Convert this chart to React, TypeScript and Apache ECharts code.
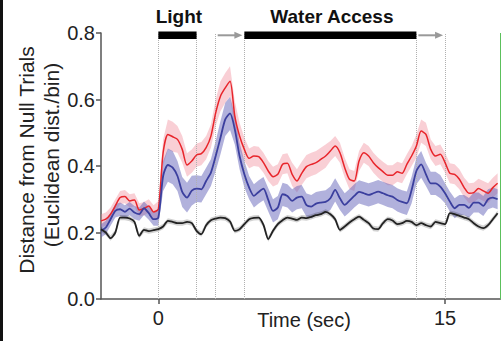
import React, { useEffect, useRef } from 'react';
import * as echarts from 'echarts';

// time (sec) of each bin
const times = [
  -3, -2.75, -2.5, -2.25, -2, -1.75, -1.5, -1.25, -1, -0.75, -0.5, -0.25,
  0, 0.25, 0.5, 0.75, 1, 1.25, 1.5, 1.75, 2, 2.25, 2.5, 2.75,
  3, 3.25, 3.5, 3.75, 4, 4.25, 4.5, 4.75, 5, 5.25, 5.5, 5.75,
  6, 6.25, 6.5, 6.75, 7, 7.25, 7.5, 7.75, 8, 8.25, 8.5, 8.75,
  9, 9.25, 9.5, 9.75, 10, 10.25, 10.5, 10.75, 11, 11.25, 11.5, 11.75,
  12, 12.25, 12.5, 12.75, 13, 13.25, 13.5, 13.75, 14, 14.25, 14.5, 14.75,
  15, 15.25, 15.5, 15.75, 16, 16.25, 16.5, 16.75, 17, 17.25, 17.5, 17.75,
];

const redMean = [
  0.235, 0.24, 0.255, 0.28, 0.305, 0.308, 0.295, 0.298, 0.268, 0.272, 0.28, 0.262,
  0.27, 0.44, 0.495, 0.488, 0.48, 0.45, 0.403, 0.415, 0.433, 0.437, 0.455, 0.49,
  0.56, 0.61, 0.635, 0.655, 0.55, 0.49, 0.45, 0.423, 0.43, 0.428, 0.41, 0.385,
  0.368, 0.375, 0.405, 0.408, 0.375, 0.355, 0.378, 0.398, 0.405, 0.41, 0.42, 0.43,
  0.445, 0.46, 0.44, 0.395, 0.36, 0.355, 0.415, 0.44, 0.43, 0.41, 0.395, 0.383,
  0.372, 0.372, 0.383, 0.378, 0.405, 0.43, 0.46, 0.505, 0.495, 0.45, 0.43, 0.435,
  0.41, 0.378, 0.375, 0.36, 0.335, 0.318, 0.32, 0.332, 0.325, 0.318, 0.335, 0.348,
];
const redSem = [
  0.02, 0.02, 0.02, 0.02, 0.02, 0.02, 0.02, 0.02, 0.02, 0.02, 0.02, 0.02,
  0.025, 0.04, 0.045, 0.045, 0.04, 0.04, 0.035, 0.035, 0.035, 0.035, 0.035, 0.035,
  0.04, 0.045, 0.045, 0.045, 0.045, 0.04, 0.035, 0.03, 0.03, 0.03, 0.03, 0.03,
  0.03, 0.03, 0.03, 0.03, 0.035, 0.035, 0.035, 0.035, 0.035, 0.035, 0.035, 0.035,
  0.03, 0.03, 0.03, 0.03, 0.03, 0.03, 0.03, 0.03, 0.03, 0.03, 0.03, 0.03,
  0.03, 0.03, 0.03, 0.03, 0.03, 0.03, 0.035, 0.035, 0.035, 0.03, 0.03, 0.03,
  0.03, 0.03, 0.03, 0.03, 0.03, 0.03, 0.03, 0.03, 0.03, 0.03, 0.03, 0.03,
];

const blueMean = [
  0.205, 0.215, 0.24, 0.265, 0.27, 0.262, 0.272, 0.26, 0.255, 0.273, 0.258, 0.24,
  0.245, 0.37, 0.403, 0.395, 0.37, 0.322, 0.305, 0.326, 0.332, 0.33, 0.355, 0.38,
  0.43, 0.485, 0.54, 0.558, 0.51, 0.43, 0.375, 0.335, 0.31, 0.322, 0.332, 0.298,
  0.265, 0.275, 0.315, 0.31, 0.295, 0.305, 0.308, 0.282, 0.278, 0.287, 0.29, 0.292,
  0.303, 0.328, 0.303, 0.283, 0.296, 0.31, 0.322, 0.318, 0.313, 0.318, 0.323, 0.318,
  0.312, 0.308, 0.298, 0.292, 0.288, 0.328, 0.385, 0.405, 0.375, 0.348, 0.348, 0.338,
  0.318, 0.293, 0.273, 0.283, 0.283, 0.274, 0.29, 0.29, 0.28, 0.3, 0.305, 0.3,
];
const blueSem = [
  0.02, 0.02, 0.02, 0.02, 0.02, 0.02, 0.02, 0.02, 0.02, 0.02, 0.02, 0.02,
  0.025, 0.045, 0.05, 0.05, 0.045, 0.045, 0.045, 0.045, 0.04, 0.04, 0.04, 0.04,
  0.045, 0.05, 0.05, 0.05, 0.045, 0.04, 0.04, 0.035, 0.035, 0.035, 0.035, 0.035,
  0.035, 0.035, 0.035, 0.035, 0.035, 0.035, 0.035, 0.035, 0.035, 0.035, 0.035, 0.035,
  0.035, 0.035, 0.035, 0.035, 0.035, 0.035, 0.035, 0.035, 0.035, 0.035, 0.035, 0.035,
  0.035, 0.035, 0.035, 0.035, 0.035, 0.04, 0.04, 0.04, 0.035, 0.035, 0.035, 0.035,
  0.03, 0.03, 0.03, 0.03, 0.03, 0.03, 0.03, 0.03, 0.03, 0.03, 0.03, 0.03,
];

const nullMean = [
  0.21, 0.2, 0.183, 0.2, 0.245, 0.245, 0.242, 0.232, 0.19, 0.208, 0.204, 0.207,
  0.21, 0.218, 0.235, 0.232, 0.228, 0.228, 0.232, 0.228, 0.205, 0.195, 0.222, 0.237,
  0.242, 0.245, 0.243, 0.233, 0.205, 0.21, 0.225, 0.24, 0.244, 0.245, 0.223, 0.18,
  0.205, 0.225, 0.237, 0.245, 0.242, 0.238, 0.245, 0.243, 0.247, 0.252, 0.255, 0.262,
  0.255, 0.24, 0.208, 0.218, 0.23, 0.24, 0.248, 0.238, 0.228, 0.212, 0.21, 0.228,
  0.24, 0.236, 0.225, 0.228, 0.235, 0.232, 0.222, 0.228, 0.222, 0.218, 0.232, 0.228,
  0.225, 0.258, 0.255, 0.25, 0.245, 0.24, 0.228, 0.218, 0.213, 0.222, 0.24, 0.258,
];
const nullSem = times.map(() => 0.008);

// events on top of plot
const eventStart = [0, 3, 4.5, 13.5];
const eventEnd = [2, 4.5, 13.5, 15];
const eventKind = ['bar', 'arrow', 'bar', 'arrow'];
const eventLabel = ['Light', '', 'Water Access', ''];
const guideTimes = [0, 2, 3, 4.5, 13.5, 15];
const endMarker = 17.9;

const xMin = -3;
const xMax = 17.9;
const xLabelValues = [0, 15];
const xTitle = 'Time (sec)';
const yTitleLines = ['Distance from Null Trials', '(Euclidean dist./bin)'];
const yMin = 0;
const yMax = 0.8;
const yStep = 0.2;

const FONT = 'Liberation Sans, Arial, Helvetica, sans-serif';

function bandSeries(mean: number[], sem: number[], color: string, z: number) {
  return {
    type: 'custom',
    z,
    silent: true,
    data: [[times[0], mean[0]]],
    renderItem: (_params: any, api: any) => {
      const up = times.map((t, i) => api.coord([t, mean[i] + sem[i]]));
      const lo = times.map((t, i) => api.coord([t, mean[i] - sem[i]])).reverse();
      return {
        type: 'polygon',
        shape: { points: up.concat(lo), smooth: 0 },
        style: { fill: color },
      };
    },
  };
}

function lineSeries(name: string, mean: number[], color: string, width: number, z: number, extra: any = {}) {
  return {
    name,
    type: 'line',
    z,
    silent: true,
    symbol: 'none',
    showSymbol: false,
    smooth: 0.25,
    data: times.map((t, i) => [t, mean[i]]),
    lineStyle: { color, width },
    ...extra,
  };
}

export default function App() {
  const ref = useRef<HTMLDivElement>(null);
  useEffect(() => {
    if (!ref.current) return;
    const chart = echarts.init(ref.current, undefined, { renderer: 'svg' });
    const option: any = {
      animation: false,
      backgroundColor: '#ffffff',
      grid: { left: 101, top: 33, width: 399.5, height: 266, containLabel: false, outerBoundsMode: 'none' },
      xAxis: {
        type: 'value',
        min: xMin,
        max: xMax,
        axisLine: { show: true, onZero: false, lineStyle: { color: '#555', width: 1.5 } },
        axisTick: { show: true, length: 5, customValues: xLabelValues, lineStyle: { color: '#555', width: 1.5 } },
        axisLabel: { customValues: xLabelValues, fontSize: 20, color: '#222', fontFamily: FONT, margin: 9 },
        splitLine: { show: false },
      },
      yAxis: {
        type: 'value',
        min: yMin,
        max: yMax,
        interval: yStep,
        axisLine: { show: true, onZero: false, lineStyle: { color: '#555', width: 1.5 } },
        axisTick: { show: true, length: 5, lineStyle: { color: '#555', width: 1.5 } },
        axisLabel: { fontSize: 20, color: '#222', fontFamily: FONT, margin: 6, formatter: (v: number) => v.toFixed(1) },
        splitLine: { show: false },
      },
      graphic: [
        { type: 'rect', shape: { x: 0, y: 0, width: 3, height: 341 }, style: { fill: '#111' } },
        {
          type: 'text', x: 26, y: 160, rotation: Math.PI / 2,
          style: { text: yTitleLines[0], fontSize: 21, fontFamily: FONT, fill: '#222', align: 'center', verticalAlign: 'middle' },
        },
        {
          type: 'text', x: 51, y: 155, rotation: Math.PI / 2,
          style: { text: yTitleLines[1], fontSize: 21, fontFamily: FONT, fill: '#222', align: 'center', verticalAlign: 'middle' },
        },
        {
          type: 'text', x: 304, y: 320,
          style: { text: xTitle, fontSize: 20, fontFamily: FONT, fill: '#222', align: 'center', verticalAlign: 'middle' },
        },
      ],
      series: [
        lineSeries('guides', [], '#aaa', 1, 1, {
          data: [],
          markLine: {
            silent: true,
            symbol: ['none', 'none'],
            label: { show: false },
            lineStyle: { color: '#b0b0b0', type: 'dotted', width: 1 },
            data: [
              ...guideTimes.map((t) => ({ xAxis: t })),
              { xAxis: endMarker, lineStyle: { color: '#5cc05c', type: 'solid', width: 2 } },
            ],
          },
        }),
        bandSeries(redMean, redSem, 'rgba(240,130,145,0.38)', 2),
        bandSeries(blueMean, blueSem, 'rgba(100,100,185,0.5)', 3),
        bandSeries(nullMean, nullSem, 'rgba(0,0,0,0.18)', 4),
        lineSeries('red', redMean, '#e8252b', 1.5, 5),
        lineSeries('blue', blueMean, '#3b3f9e', 1.8, 6),
        lineSeries('null', nullMean, '#222222', 1.8, 7),
        {
          type: 'custom',
          z: 10,
          silent: true,
          clip: false,
          data: eventStart.map((s, i) => [s, eventEnd[i]]),
          renderItem: (params: any, api: any) => {
            const i = params.dataIndex;
            const p0 = api.coord([api.value(0), yMax]);
            const p1 = api.coord([api.value(1), yMax]);
            const yMid = p0[1] + 2.3;
            if (eventKind[i] === 'bar') {
              return {
                type: 'group',
                children: [
                  { type: 'rect', shape: { x: p0[0], y: p0[1] - 1.4, width: p1[0] - p0[0], height: 7.5 }, style: { fill: '#000' } },
                  {
                    type: 'text',
                    style: {
                      text: eventLabel[i], x: (p0[0] + p1[0]) / 2 + 1.5, y: p0[1] - 17,
                      align: 'center', verticalAlign: 'middle',
                      fontSize: 19, fontWeight: 'bold', fontFamily: FONT, fill: '#111',
                    },
                  },
                ],
              };
            }
            const xa = p0[0] + 2;
            const xb = p1[0] - 2;
            return {
              type: 'group',
              children: [
                { type: 'line', shape: { x1: xa, y1: yMid, x2: xb - 6, y2: yMid }, style: { stroke: '#999', lineWidth: 2 } },
                { type: 'polygon', shape: { points: [[xb - 8, yMid - 3.5], [xb, yMid], [xb - 8, yMid + 3.5]] }, style: { fill: '#999' } },
              ],
            };
          },
        },
      ],
    };
    chart.setOption(option);
    return () => chart.dispose();
  }, []);
  return (
    <div
      ref={ref}
      style={{ position: 'absolute', left: 0, top: 0, width: 501, height: 341, background: '#fff' }}
    />
  );
}
